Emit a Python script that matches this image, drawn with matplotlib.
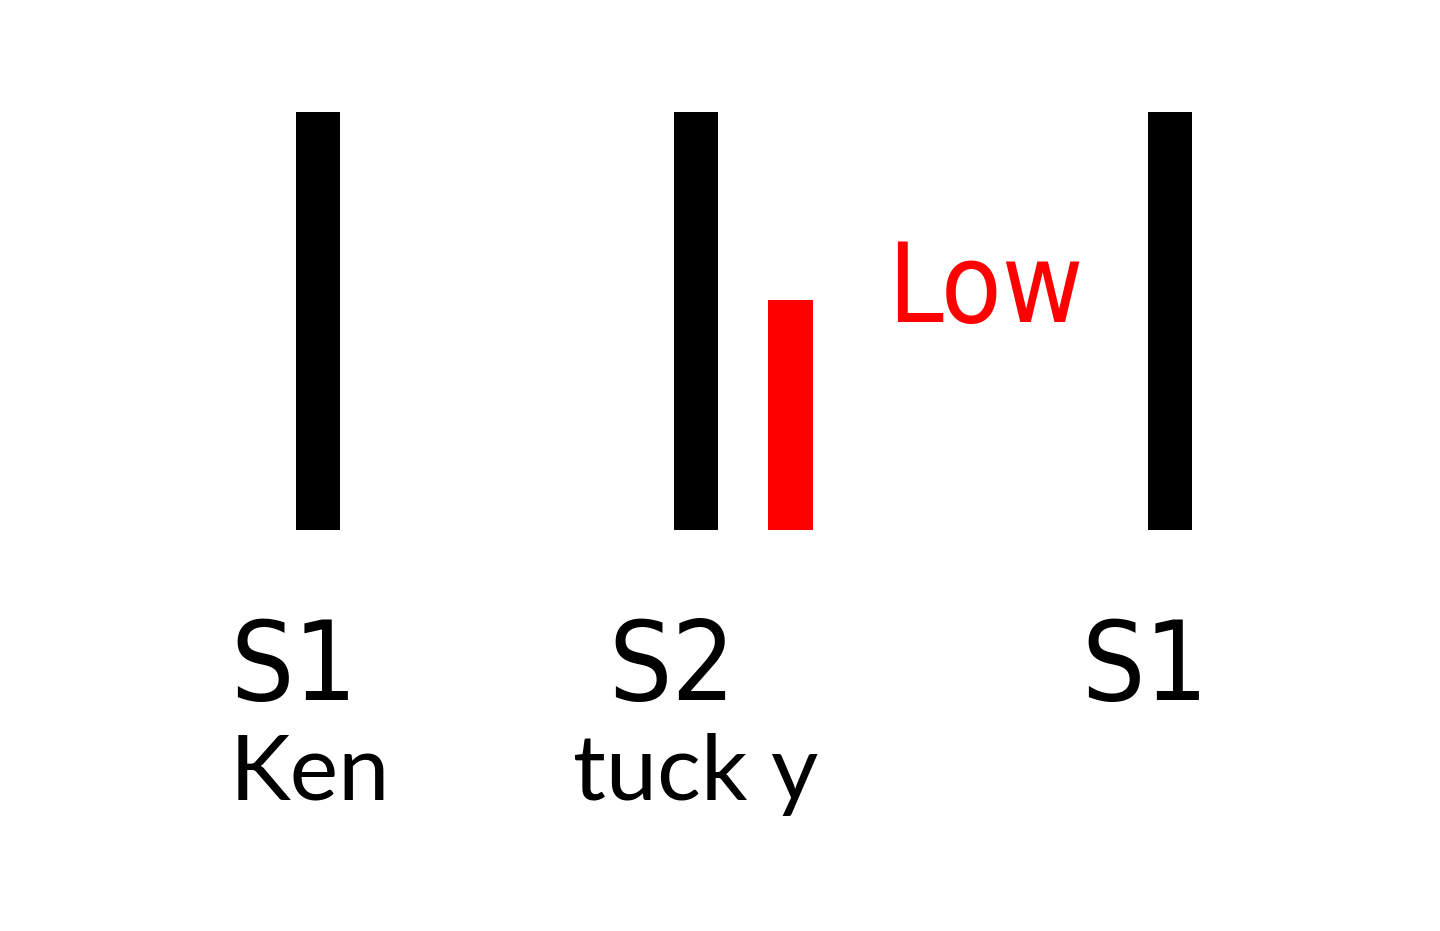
import matplotlib.pyplot as plt
from matplotlib.transforms import offset_copy

# heart sound timing (ms) and relative loudness
sound_names = ["S1", "S2", "S3", "S1"]
sound_times = [0, 300, 375, 676]
sound_amps = [1.0, 1.0, 0.55, 1.0]
sound_colors = ["black", "black", "red", "black"]

label_names = ["S1", "S2", "S1"]
label_times = [0, 300, 676]
syllables = ["Ken", "tuck y"]
syllable_times = [0, 300]
pitch_label = "Low"

fig = plt.figure(figsize=(14.4, 9.31), dpi=100)
ax = fig.add_axes([0, 0, 1, 1])
ax.set_xlim(-252.4, 890.5)
ax.set_ylim(-0.959, 1.268)
ax.axis("off")

ax.bar(sound_times, sound_amps, width=35, color=sound_colors, align="center")

trans = offset_copy(ax.transData, fig=fig, x=-88, y=0, units="dots")
for t, name in zip(label_times, label_names):
    ax.text(t, -0.406, name, transform=trans, ha="left", va="baseline",
            fontsize=80, family="DejaVu Sans", fontstretch="condensed")

for t, s in zip(syllable_times, syllables):
    x = -88 if s == "Ken" else -123
    tr = offset_copy(ax.transData, fig=fig, x=x, y=0, units="dots")
    ax.text(t, -0.645, s, transform=tr, ha="left", va="baseline",
            fontsize=66, family="Lato")

ax.text(452, 0.498, pitch_label, ha="left", va="baseline", color="red",
        fontsize=80, family="DejaVu Sans", fontstretch="condensed")

fig.savefig("out.png", dpi=100)
